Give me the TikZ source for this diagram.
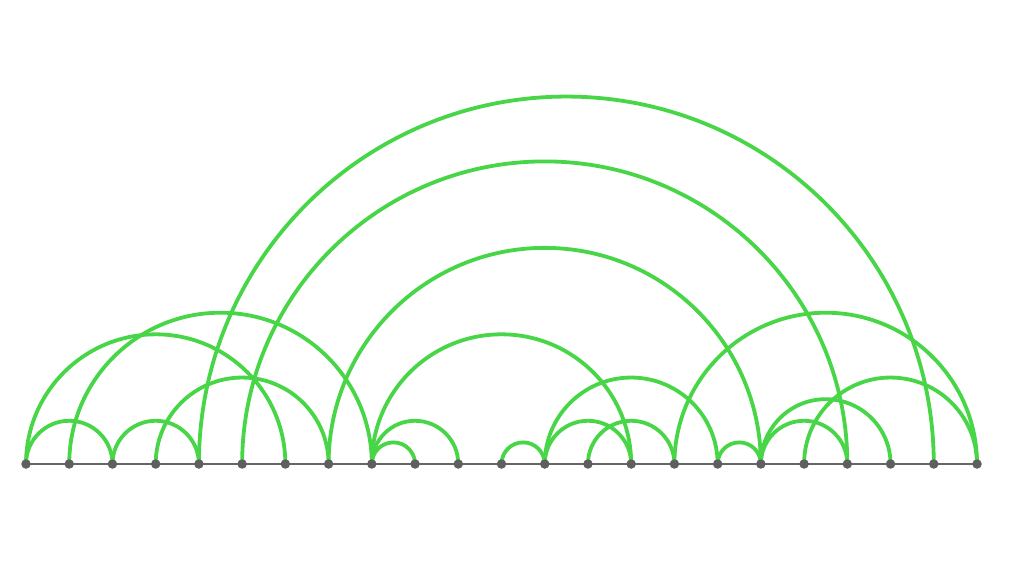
\documentclass[tikz,border=0pt]{standalone}
\usetikzlibrary{calc}
\definecolor{arcgreen}{RGB}{72,214,72}
\definecolor{axisgray}{RGB}{102,102,102}
\definecolor{dotgray}{RGB}{95,95,95}
\begin{document}
\begin{tikzpicture}[x=1pt,y=1pt,
  arcline/.style={draw=arcgreen, line width=3.8pt},
  axisline/.style={draw=axisgray, line width=2.6pt},
  dot/.style={circle, fill=dotgray, inner sep=0pt, minimum size=9.5pt}]
\useasboundingbox (0,0) rectangle (1024,576);
\foreach \i in {0,...,22} \coordinate (p\i) at ({26+43.227*\i},112);
\foreach \a/\b in {0/2,2/4,0/6,1/8,3/7,4/21,5/19,7/17,8/9,8/10,8/14,11/12,12/14,12/16,13/15,15/22,16/17,17/19,17/20,18/22}
  \draw[arcline] let \p1=($(p\b)-(p\a)$) in (p\a) arc[start angle=180, end angle=0, radius={0.5*\x1}];
\draw[axisline] (p0) -- (p22);
\foreach \i in {0,...,22} \node[dot] (d\i) at (p\i) {};
\end{tikzpicture}
\end{document}
